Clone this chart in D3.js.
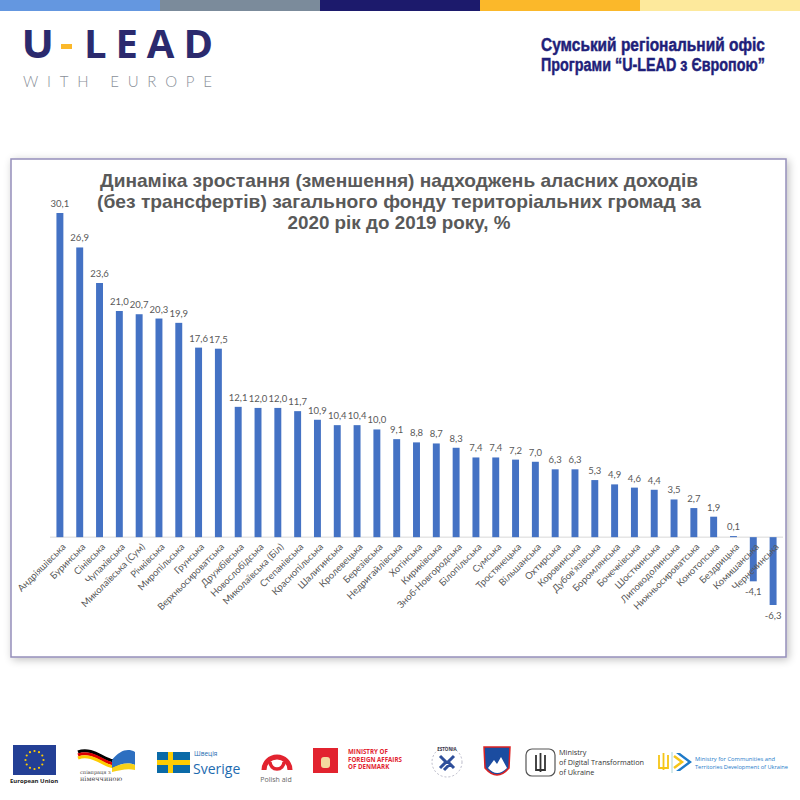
<!DOCTYPE html>
<html><head><meta charset="utf-8">
<script src="https://cdn.jsdelivr.net/npm/d3@7"></script>
<style>html,body{margin:0;padding:0;background:#fff;}svg{display:block;}</style>
</head><body>
<svg id="c" width="800" height="800"></svg>
<script>
const categories = ["Андріяшівська","Буринська","Сінівська","Чупахівська","Миколаївська (Сум)","Річківська","Миропільська","Грунська","Верхньосироватська","Дружбівська","Новослобідська","Миколаївська (Біл)","Степанівська","Краснопільська","Шалигинська","Кролевецька","Березівська","Недригайлівська","Хотінська","Кириківська","Зноб-Новгородська","Білопільська","Сумська","Тростянецька","Вільшанська","Охтирська","Коровинська","Дубов'язівська","Боромлянська","Бочечківська","Шосткинська","Липоводолинська","Нижньосироватська","Конотопська","Бездрицька","Комишанська","Чернечинська"];
const values = [30.1,26.9,23.6,21.0,20.7,20.3,19.9,17.6,17.5,12.1,12.0,12.0,11.7,10.9,10.4,10.4,10.0,9.1,8.8,8.7,8.3,7.4,7.4,7.2,7.0,6.3,6.3,5.3,4.9,4.6,4.4,3.5,2.7,1.9,0.1,-4.1,-6.3];
const titleLines = ["Динаміка зростання (зменшення) надходжень аласних доходів","(без трансфертів) загального фонду територіальних  громад за","2020 рік до 2019 року, %"];
const headerLines = ["Сумський регіональний офіс","Програми “U-LEAD з Європою”"];
const stripColors = ["#6497e0","#7b8b9b","#1c1a6c","#fbb82a","#fde99c"];

const svg = d3.select("#c");
const defs = svg.append("defs");
const f = defs.append("filter").attr("id","sh").attr("x","-5%").attr("y","-5%").attr("width","110%").attr("height","110%");
f.append("feGaussianBlur").attr("in","SourceAlpha").attr("stdDeviation",4);
f.append("feOffset").attr("dx",2).attr("dy",2).attr("result","b");
f.append("feComponentTransfer").append("feFuncA").attr("type","linear").attr("slope",0.25);
const m = f.append("feMerge"); m.append("feMergeNode"); m.append("feMergeNode").attr("in","SourceGraphic");

// top strip
const sx = d3.scaleBand().domain(d3.range(stripColors.length)).range([0,800]);
svg.selectAll("rect.strip").data(stripColors).join("rect").attr("class","strip")
  .attr("x",(d,i)=>sx(i)).attr("y",0).attr("width",sx.bandwidth()+0.5).attr("height",11).attr("fill",d=>d);

// U-LEAD logo
svg.append("text").attr("x",22).attr("y",58).attr("font-family","Montserrat, 'Open Sans', Lato, sans-serif").attr("font-weight",700)
  .attr("font-size",40).attr("fill","#2b2a6e").text("U");
svg.append("rect").attr("x",61).attr("y",44).attr("width",11).attr("height",5).attr("fill","#fbb82a");
svg.append("text").attr("x",84).attr("y",58).attr("font-family","'Open Sans', Lato, sans-serif").attr("font-weight",700)
  .attr("font-size",40).attr("fill","#2b2a6e").attr("textLength",129).attr("lengthAdjust","spacing").text("LEAD");
svg.append("text").attr("x",23).attr("y",87).attr("font-family","Lato, 'Open Sans', sans-serif").attr("font-weight",300)
  .attr("font-size",15).attr("fill","#8a909a").attr("textLength",189).attr("lengthAdjust","spacing").text("WITH EUROPE");

// right header (condensed by horizontal scaling)
headerLines.forEach((t,i)=>{
  const g = svg.append("g");
  const tx = g.append("text").attr("x",0).attr("y",0)
    .attr("font-family","'Liberation Sans', Arial, sans-serif").attr("font-weight",700).attr("font-size",19)
    .attr("fill","#1f1f7a").attr("stroke","#1f1f7a").attr("stroke-width",0.5).text(t);
  const w = tx.node().getComputedTextLength();
  g.attr("transform",`translate(${765-224},${51+i*20}) scale(${224/w},1)`);
});

// chart box
svg.append("rect").attr("x",11).attr("y",159).attr("width",775).attr("height",498)
  .attr("fill","#fff").attr("stroke","#958fba").attr("stroke-width",1.5).attr("filter","url(#sh)");

// title
const tl = [598,604,223];
svg.selectAll("text.ttl").data(titleLines).join("text").attr("class","ttl")
  .attr("x",399).attr("y",(d,i)=>187+i*21).attr("text-anchor","middle")
  .attr("font-family","'Liberation Sans', Arial, sans-serif").attr("font-weight",700).attr("font-size",18.5)
  .attr("fill","#595959").attr("textLength",(d,i)=>tl[i]).attr("lengthAdjust","spacingAndGlyphs").text(d=>d);

// scales
const x = d3.scaleBand().domain(categories).range([50,783]).paddingInner(0.65).paddingOuter(0.325);
const y = d3.scaleLinear().domain([-6.3,30.1]).range([605,213]);
const fmt = v => d3.format(".1f")(v).replace(".",",").replace("−","-");

svg.append("line").attr("x1",50).attr("x2",783).attr("y1",y(0)).attr("y2",y(0)).attr("stroke","#d9d9d9").attr("stroke-width",1);

svg.selectAll("rect.bar").data(values).join("rect").attr("class","bar")
  .attr("x",(d,i)=>x(categories[i])).attr("width",x.bandwidth())
  .attr("y",d=>y(Math.max(0,d))).attr("height",d=>Math.abs(y(d)-y(0)))
  .attr("fill","#4472c4");

svg.selectAll("text.val").data(values).join("text").attr("class","val")
  .attr("x",(d,i)=>x(categories[i])+x.bandwidth()/2)
  .attr("y",d=>d>=0 ? y(d)-6 : y(d)+14)
  .attr("text-anchor","middle").attr("font-family","Lato, 'Open Sans', sans-serif").attr("font-size",9.5)
  .attr("fill","#595959").text(d=>fmt(d));

// x axis labels
const ax = svg.append("g").attr("transform",`translate(0,${y(0)})`)
  .call(d3.axisBottom(x).tickSize(0).tickPadding(0));
ax.select(".domain").remove();
ax.selectAll(".tick text")
  .attr("transform","translate(4,8) rotate(-45)")
  .attr("text-anchor","end").attr("dy","0.35em").attr("y",0)
  .attr("font-family","Lato, 'Open Sans', sans-serif").attr("font-size",9.5).attr("fill","#595959");

// bottom logos
const L = svg.append("g");
// EU
L.append("rect").attr("x",13).attr("y",745).attr("width",43).attr("height",30).attr("fill","#233f95");
d3.range(12).forEach(k=>{const a=k*Math.PI/6;L.append("circle").attr("cx",34.5+9*Math.cos(a)).attr("cy",760+9*Math.sin(a)).attr("r",1.1).attr("fill","#fc0");});
L.append("text").attr("x",34).attr("y",783).attr("text-anchor","middle").attr("font-family","'Open Sans',sans-serif").attr("font-weight",700).attr("font-size",6).attr("fill","#222").text("European Union");
// Germany-Ukraine
[["#000",0],["#d00",3],["#fc0",6]].forEach(([c,o])=>L.append("path").attr("d",`M78 ${752+o} C95 ${745+o},110 ${768+o},118 ${758+o}`).attr("stroke",c).attr("stroke-width",3).attr("fill","none"));
L.append("path").attr("d","M112 760 C120 750,128 748,135 752 L135 765 C128 762,120 764,112 768Z").attr("fill","#2d6fc0");
L.append("path").attr("d","M112 768 C120 764,128 762,135 765 L135 770 C128 768,120 770,112 772Z").attr("fill","#f7d117");
L.append("text").attr("x",80).attr("y",774).attr("font-family","'DejaVu Serif',serif").attr("font-size",5).attr("fill","#444").text("співпраця з");
L.append("text").attr("x",80).attr("y",781).attr("font-family","'DejaVu Serif',serif").attr("font-size",6.5).attr("fill","#444").text("німеччиною");
// Sweden
L.append("rect").attr("x",157).attr("y",752).attr("width",33).attr("height",21).attr("fill","#0a6aa7");
L.append("rect").attr("x",168).attr("y",752).attr("width",5).attr("height",21).attr("fill","#fecc02");
L.append("rect").attr("x",157).attr("y",760).attr("width",33).attr("height",5).attr("fill","#fecc02");
L.append("text").attr("x",194).attr("y",756).attr("font-family","'Open Sans',sans-serif").attr("font-size",6.5).attr("fill","#1d6bb0").text("Швеція");
L.append("text").attr("x",193).attr("y",774).attr("font-family","'Open Sans',sans-serif").attr("font-size",14).attr("fill","#1d6bb0").text("Sverige");
// Polish aid
L.append("path").attr("d","M264 770 A13 13 0 1 1 290 770").attr("stroke","#e2232f").attr("stroke-width",5).attr("fill","none");
L.append("path").attr("d","M270 762 A7 7 0 0 0 284 762").attr("stroke","#e2232f").attr("stroke-width",3.5).attr("fill","none");
L.append("text").attr("x",276).attr("y",782).attr("text-anchor","middle").attr("font-family","'Open Sans',sans-serif").attr("font-size",7).attr("fill","#666").text("Polish aid");
// Denmark
L.append("rect").attr("x",313).attr("y",748).attr("width",25).attr("height",25).attr("fill","#e2232f");
L.append("rect").attr("x",321).attr("y",757).attr("width",9).attr("height",11).attr("rx",3).attr("fill","#f4d9a0");
["MINISTRY OF","FOREIGN AFFAIRS","OF DENMARK"].forEach((t,i)=>L.append("text").attr("x",348).attr("y",754+i*7.5).attr("font-family","'Open Sans',sans-serif").attr("font-weight",700).attr("font-size",6.2).attr("fill","#e2232f").text(t));
// Estonia
L.append("circle").attr("cx",447).attr("cy",762).attr("r",15).attr("fill","none").attr("stroke","#aab").attr("stroke-width",0.8).attr("stroke-dasharray","2 2");
L.append("text").attr("x",447).attr("y",751).attr("text-anchor","middle").attr("font-family","'Open Sans',sans-serif").attr("font-weight",700).attr("font-size",4.5).attr("fill","#334").text("ESTONIA");
L.append("path").attr("d","M440 756 L446 762 L440 768 M454 756 L448 762 L454 768 M444 770 L450 764").attr("stroke","#2f4f9a").attr("stroke-width",3).attr("fill","none");
// Slovenia
L.append("path").attr("d","M484 747 L510 747 L509 768 Q497 782 485 768Z").attr("fill","#1b4ca0").attr("stroke","#d22").attr("stroke-width",1.5);
L.append("path").attr("d","M488 768 L494 760 L497 764 L501 757 L507 768 Q497 778 488 768Z").attr("fill","#fff");
// Digital transformation
L.append("rect").attr("x",526).attr("y",749).attr("width",29).attr("height",27).attr("rx",6).attr("fill","#fff").attr("stroke","#555").attr("stroke-width",1.2);
L.append("path").attr("d","M536 755 L536 770 L545 770 L545 755 M540.5 753 L540.5 772").attr("stroke","#333").attr("stroke-width",1.8).attr("fill","none");
["Ministry","of Digital Transformation","of Ukraine"].forEach((t,i)=>L.append("text").attr("x",559).attr("y",755+i*10).attr("font-family","'Open Sans',sans-serif").attr("font-size",7.3).attr("fill","#333").text(t));
// Communities
L.append("path").attr("d","M659 755 L659 768 L668 768 L668 755 M663.5 753 L663.5 770").attr("stroke","#f5c518").attr("stroke-width",1.8).attr("fill","none");
L.append("line").attr("x1",672).attr("x2",672).attr("y1",752).attr("y2",773).attr("stroke","#9cc").attr("stroke-width",0.8);
L.append("path").attr("d","M676 753 L688 762 L676 771 L680 771 L692 762 L680 753Z").attr("fill","#1e7ac9");
L.append("path").attr("d","M674 756 L682 762 L674 768").attr("stroke","#f5c518").attr("stroke-width",2.5).attr("fill","none");
["Ministry for Communities and","Territories Development of Ukraine"].forEach((t,i)=>L.append("text").attr("x",695).attr("y",761+i*8).attr("font-family","'Open Sans',sans-serif").attr("font-size",5.8).attr("fill","#1e7ac9").attr("textLength",i?93:80).attr("lengthAdjust","spacingAndGlyphs").text(t));
</script>
</body></html>
